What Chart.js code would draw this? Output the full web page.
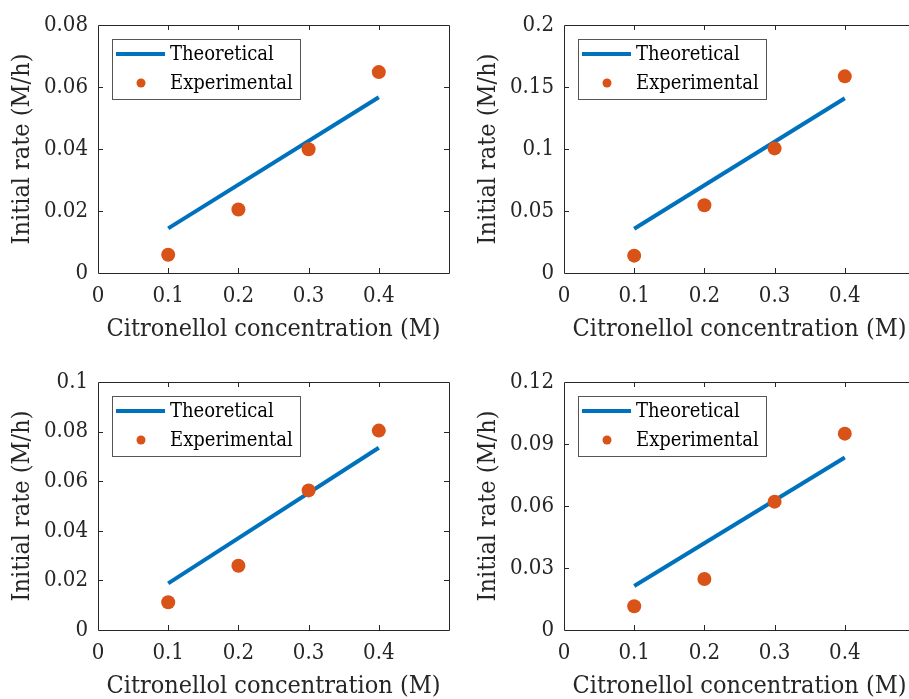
<!DOCTYPE html>
<html>
<head>
<meta charset="utf-8">
<script src="https://cdn.jsdelivr.net/npm/chart.js@4.4.0/dist/chart.umd.min.js"></script>
<style>
  body { margin: 0; background: #fff; overflow: hidden; width: 909px; height: 699px; position: relative; }
  canvas { position: absolute; }
</style>
</head>
<body>
<canvas id="c0" width="456" height="360" style="left:0px;top:0px"></canvas>
<canvas id="c1" width="456" height="360" style="left:466px;top:0px"></canvas>
<canvas id="c2" width="456" height="360" style="left:0px;top:357px"></canvas>
<canvas id="c3" width="456" height="360" style="left:466px;top:357px"></canvas>
<script>
// Citronellol kinetics: theoretical vs experimental initial rates
const concentrations = [0.1, 0.2, 0.3, 0.4];
const theoryX = [0.1, 0.4];
const xTicks = [0, 0.1, 0.2, 0.3, 0.4];

const expA = [0.0059, 0.0205, 0.0399, 0.0648];
const theoryA = [0.0144, 0.0567];
const expB = [0.014, 0.0546, 0.1005, 0.1586];
const theoryB = [0.0357, 0.1409];
const expC = [0.0112, 0.0259, 0.0563, 0.0804];
const theoryC = [0.0188, 0.0735];
const expD = [0.0115, 0.0247, 0.0621, 0.095];
const theoryD = [0.0213, 0.0835];

const yMaxes = [0.08, 0.2, 0.1, 0.12];
const ySteps = [0.02, 0.05, 0.02, 0.03];

const xLabel = "Citronellol concentration (M)";
const yLabel = "Initial rate (M/h)";

const BLUE = "#0072BD";
const ORANGE = "#D95319";
const AXIS = "#262626";
const FONT = "'DejaVu Serif Condensed', 'DejaVu Serif', serif";

function fmt(v) {
  return String(parseFloat(Number(v).toFixed(4)));
}

// box + inward ticks on all four sides, like a matlab axes
const boxPlugin = {
  id: "box",
  afterDatasetsDraw(chart) {
    const { ctx, chartArea: a, scales } = chart;
    ctx.save();
    ctx.strokeStyle = AXIS;
    ctx.lineWidth = 1;
    ctx.beginPath();
    ctx.rect(a.left + 0.5, a.top + 0.5, a.right - a.left, a.bottom - a.top);
    ctx.stroke();
    const len = 5;
    ctx.beginPath();
    scales.x.ticks.forEach((t) => {
      const px = Math.round(scales.x.getPixelForValue(t.value)) + 0.5;
      if (px <= a.left + 1 || px >= a.right - 1) return;
      ctx.moveTo(px, a.bottom);
      ctx.lineTo(px, a.bottom - len);
      ctx.moveTo(px, a.top);
      ctx.lineTo(px, a.top + len);
    });
    scales.y.ticks.forEach((t) => {
      const py = Math.round(scales.y.getPixelForValue(t.value)) + 0.5;
      if (py <= a.top + 1 || py >= a.bottom - 1) return;
      ctx.moveTo(a.left, py);
      ctx.lineTo(a.left + len, py);
      ctx.moveTo(a.right, py);
      ctx.lineTo(a.right - len, py);
    });
    ctx.stroke();
    ctx.restore();
  },
  afterDraw(chart) {
    // legend box in the top-left corner of the axes
    const { ctx, chartArea: a } = chart;
    const line = chart.data.datasets[0];
    const pts = chart.data.datasets[1];
    const bx = a.left + 14, by = a.top + 14, bw = 188, bh = 60;
    ctx.save();
    ctx.fillStyle = "#fff";
    ctx.fillRect(bx, by, bw, bh);
    ctx.strokeStyle = "#555";
    ctx.lineWidth = 1;
    ctx.strokeRect(bx + 0.5, by + 0.5, bw, bh);

    ctx.strokeStyle = line.borderColor;
    ctx.lineWidth = line.borderWidth;
    ctx.beginPath();
    ctx.moveTo(bx + 4, by + 15);
    ctx.lineTo(bx + 53, by + 15);
    ctx.stroke();

    ctx.fillStyle = pts.backgroundColor;
    ctx.beginPath();
    ctx.arc(bx + 29, by + 44, 4.5, 0, Math.PI * 2);
    ctx.fill();

    ctx.fillStyle = "#000";
    ctx.font = "20px " + FONT;
    ctx.textBaseline = "middle";
    ctx.fillText(line.label, bx + 58, by + 16);
    ctx.fillText(pts.label, bx + 58, by + 45);
    ctx.restore();
  },
};

function makePanel(id, expVals, theoryVals, yMax, yStep) {
  const ctx = document.getElementById(id).getContext("2d");
  return new Chart(ctx, {
    data: {
      datasets: [
        {
          type: "line",
          label: "Theoretical",
          data: theoryX.map((x, i) => ({ x, y: theoryVals[i] })),
          borderColor: BLUE,
          borderWidth: 4,
          pointRadius: 0,
          fill: false,
          order: 1,
        },
        {
          type: "scatter",
          label: "Experimental",
          data: concentrations.map((x, i) => ({ x, y: expVals[i] })),
          backgroundColor: ORANGE,
          borderWidth: 0,
          pointRadius: 7,
          order: 0,
        },
      ],
    },
    options: {
      responsive: false,
      animation: false,
      layout: { padding: { top: 25, right: 3, left: 0, bottom: 0 } },
      plugins: { legend: { display: false }, tooltip: { enabled: false } },
      scales: {
        x: {
          type: "linear",
          min: 0,
          max: 0.5,
          grid: { display: false, drawTicks: false },
          border: { display: false },
          afterBuildTicks: (s) => {
            s.ticks = xTicks.map((v) => ({ value: v }));
          },
          afterFit: (s) => {
            s.height = 87;
          },
          ticks: {
            padding: 10,
            color: AXIS,
            maxRotation: 0,
            font: { family: FONT, size: 22 },
            callback: (v) => fmt(v),
          },
          title: {
            display: true,
            text: xLabel,
            color: AXIS,
            padding: { top: 0, bottom: 16 },
            font: { family: FONT, size: 25 },
          },
        },
        y: {
          min: 0,
          max: yMax,
          grid: { display: false, drawTicks: false },
          border: { display: false },
          afterFit: (s) => {
            s.width = 98;
          },
          ticks: {
            stepSize: yStep,
            padding: 10,
            color: AXIS,
            font: { family: FONT, size: 22 },
            callback: (v) => fmt(v),
          },
          title: {
            display: true,
            text: yLabel,
            color: AXIS,
            padding: { top: 7, bottom: 0 },
            font: { family: FONT, size: 25 },
          },
        },
      },
    },
    plugins: [boxPlugin],
  });
}

makePanel("c0", expA, theoryA, yMaxes[0], ySteps[0]);
makePanel("c1", expB, theoryB, yMaxes[1], ySteps[1]);
makePanel("c2", expC, theoryC, yMaxes[2], ySteps[2]);
makePanel("c3", expD, theoryD, yMaxes[3], ySteps[3]);
</script>
</body>
</html>
